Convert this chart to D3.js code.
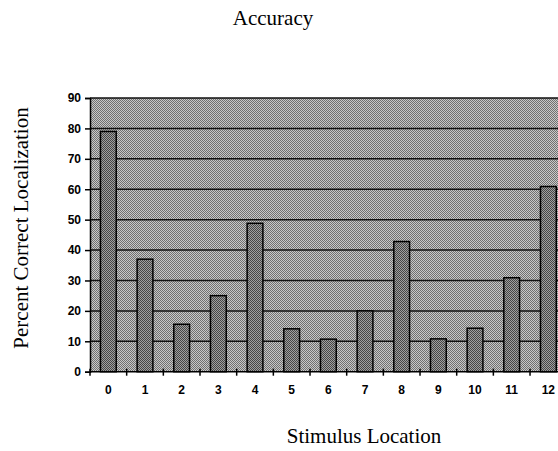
<!DOCTYPE html>
<html>
<head>
<meta charset="utf-8">
<script src="https://cdn.jsdelivr.net/npm/d3@7"></script>
<style>
  html, body { margin: 0; padding: 0; background: #fff; overflow: hidden; }
</style>
</head>
<body>
<div id="chart"></div>
<script>
var locations = ["0", "1", "2", "3", "4", "5", "6", "7", "8", "9", "10", "11", "12"];
var accuracy = [79, 37, 15.6, 25, 48.8, 14.1, 10.7, 20, 42.8, 10.8, 14.3, 30.9, 60.9];
var yTicks = [0, 10, 20, 30, 40, 50, 60, 70, 80, 90];

var W = 558, H = 451;
var plot = {left: 90, top: 98, right: 566.7, bottom: 371.7};

var svg = d3.select("#chart").append("svg")
    .attr("width", W)
    .attr("height", H);

// dithered fills, like the scanned original
var defs = svg.append("defs");
function checker(id, a, b) {
    var p = defs.append("pattern")
        .attr("id", id)
        .attr("patternUnits", "userSpaceOnUse")
        .attr("width", 2)
        .attr("height", 2);
    p.append("rect").attr("width", 2).attr("height", 2).attr("fill", a);
    p.append("rect").attr("width", 1).attr("height", 1).attr("fill", b);
    p.append("rect").attr("x", 1).attr("y", 1).attr("width", 1).attr("height", 1).attr("fill", b);
}
checker("bgFill", "#c8c8c8", "#707070");
checker("barFill", "#a0a0a0", "#464646");

var x = d3.scaleBand()
    .domain(locations)
    .range([plot.left, plot.right])
    .padding(0);

var y = d3.scaleLinear()
    .domain([0, 90])
    .range([plot.bottom, plot.top]);

// plot area background
svg.append("rect")
    .attr("x", plot.left)
    .attr("y", y(90))
    .attr("width", plot.right - plot.left)
    .attr("height", y(0) - y(90))
    .attr("fill", "url(#bgFill)")
    .attr("shape-rendering", "crispEdges");

// gridlines
svg.append("g")
    .selectAll("line")
    .data(yTicks.slice(1))
    .join("line")
    .attr("x1", plot.left)
    .attr("x2", plot.right)
    .attr("y1", function(d) { return y(d); })
    .attr("y2", function(d) { return y(d); })
    .attr("stroke", "#111")
    .attr("stroke-width", 1.5);

// bars
var barW = x.bandwidth() * 0.43;
svg.append("g")
    .selectAll("rect")
    .data(accuracy)
    .join("rect")
    .attr("x", function(d, i) { return x(locations[i]) + (x.bandwidth() - barW) / 2; })
    .attr("y", function(d) { return y(d); })
    .attr("width", barW)
    .attr("height", function(d) { return y(0) - y(d); })
    .attr("fill", "url(#barFill)")
    .attr("stroke", "#000")
    .attr("stroke-width", 1.5);

// y axis
var yAxis = svg.append("g")
    .attr("transform", "translate(" + plot.left + ",0)")
    .call(d3.axisLeft(y).tickValues(yTicks).tickSize(5).tickPadding(4));
yAxis.select(".domain").attr("stroke", "#000").attr("stroke-width", 1.5);
yAxis.selectAll(".tick line").attr("stroke", "#000").attr("stroke-width", 1.5);
yAxis.selectAll("text")
    .style("font-family", "Liberation Sans, Arial, sans-serif")
    .style("font-weight", "bold")
    .style("font-size", "12px")
    .attr("fill", "#000");

// x axis: ticks sit on the category boundaries
var xAxis = svg.append("g")
    .attr("transform", "translate(0," + plot.bottom + ")");
xAxis.append("line")
    .attr("x1", plot.left)
    .attr("x2", plot.right)
    .attr("stroke", "#000")
    .attr("stroke-width", 1.5);
xAxis.selectAll("line.tk")
    .data(locations)
    .join("line")
    .attr("class", "tk")
    .attr("x1", function(d) { return x(d); })
    .attr("x2", function(d) { return x(d); })
    .attr("y1", -3)
    .attr("y2", 4)
    .attr("stroke", "#000")
    .attr("stroke-width", 1.5);
xAxis.selectAll("text")
    .data(locations)
    .join("text")
    .attr("x", function(d) { return x(d) + x.bandwidth() / 2; })
    .attr("y", 22)
    .attr("text-anchor", "middle")
    .style("font-family", "Liberation Sans, Arial, sans-serif")
    .style("font-weight", "bold")
    .style("font-size", "12px")
    .text(function(d) { return d; });

// titles
svg.append("text")
    .attr("x", 273)
    .attr("y", 25)
    .attr("text-anchor", "middle")
    .style("font-family", "Liberation Serif, Times New Roman, serif")
    .style("font-size", "21px")
    .text("Accuracy");

svg.append("text")
    .attr("transform", "translate(28,228) rotate(-90)")
    .attr("text-anchor", "middle")
    .style("font-family", "Liberation Serif, Times New Roman, serif")
    .style("font-size", "21px")
    .text("Percent Correct Localization");

svg.append("text")
    .attr("x", 364)
    .attr("y", 443)
    .attr("text-anchor", "middle")
    .style("font-family", "Liberation Serif, Times New Roman, serif")
    .style("font-size", "21px")
    .text("Stimulus Location");
</script>
</body>
</html>
